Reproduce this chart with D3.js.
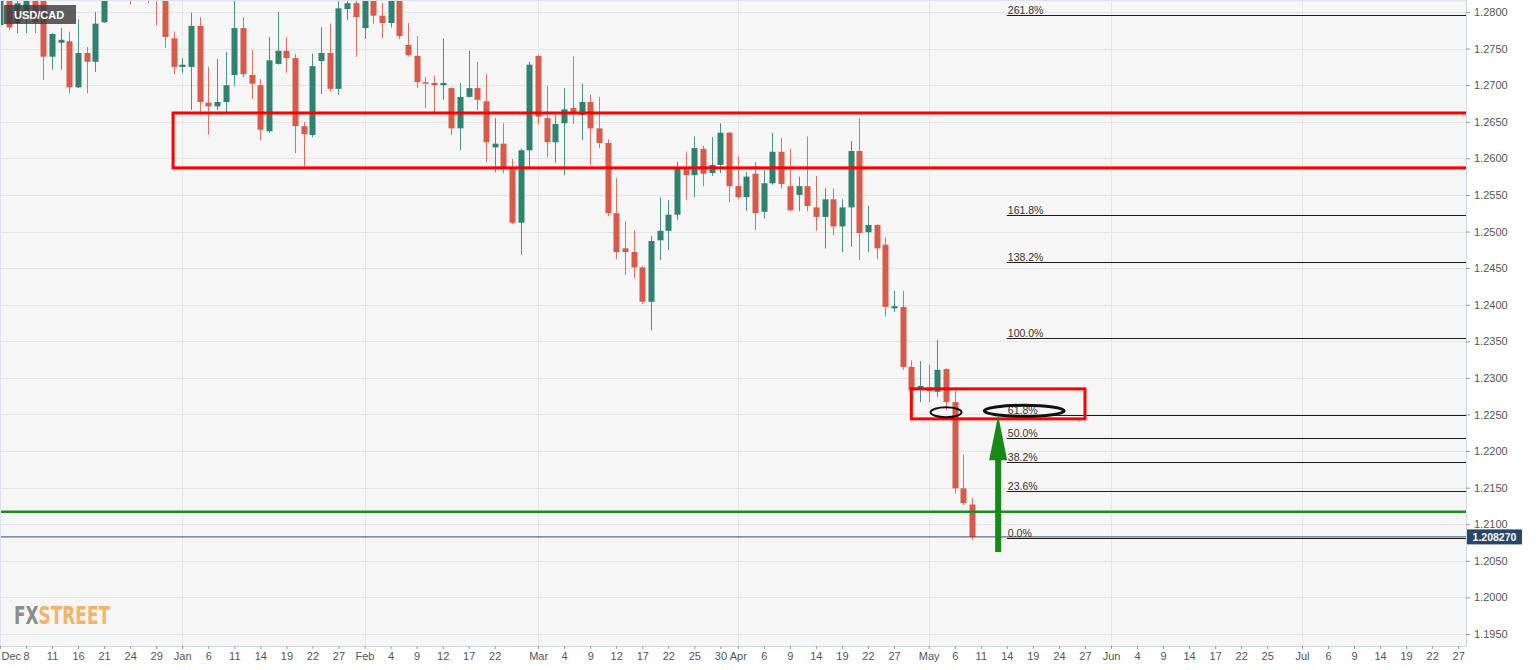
<!DOCTYPE html>
<html><head><meta charset="utf-8">
<script src="https://cdn.jsdelivr.net/npm/d3@7"></script>
<style>
body{margin:0;background:#fff;}
svg{display:block;font-family:"Liberation Sans",Arial,sans-serif;}
</style>
</head><body>
<svg id="chart" width="1536" height="670"></svg>
<script>
// ---- data ----
const symbol = "USD/CAD";
const firstDay = "2020-12-03";
const lastDay = "2021-07-27";
const opens = [1.2782,1.2821,1.2785,1.2796,1.2819,1.2819,1.2739,1.2758,1.2760,1.2697,1.2744,1.2732,1.2786,1.2844,1.2871,1.2857,1.2837,1.2844,1.2851,1.2823,1.2764,1.2725,1.2725,1.2781,1.2676,1.2671,1.2677,1.2714,1.2778,1.2714,1.2700,1.2637,1.2729,1.2747,1.2737,1.2644,1.2632,1.2733,1.2744,1.2695,1.2804,1.2812,1.2778,1.2821,1.2795,1.2785,1.2819,1.2755,1.2740,1.2704,1.2703,1.2700,1.2696,1.2641,1.2684,1.2696,1.2678,1.2615,1.2620,1.2588,1.2512,1.2611,1.2740,1.2655,1.2622,1.2648,1.2669,1.2659,1.2677,1.2641,1.2621,1.2525,1.2477,1.2472,1.2451,1.2404,1.2488,1.2501,1.2523,1.2588,1.2577,1.2613,1.2580,1.2591,1.2635,1.2562,1.2547,1.2579,1.2527,1.2566,1.2609,1.2562,1.2550,1.2562,1.2533,1.2520,1.2544,1.2507,1.2533,1.2610,1.2499,1.2509,1.2482,1.2395,1.2397,1.2315,1.2286,1.2287,1.2281,1.2312,1.2267,1.2149,1.2127];
const highs = [1.2827,1.2827,1.2821,1.2830,1.2825,1.2825,1.2771,1.2778,1.2773,1.2790,1.2752,1.2800,1.2844,1.2851,1.2885,1.2871,1.2864,1.2857,1.2857,1.2830,1.2773,1.2737,1.2799,1.2793,1.2725,1.2736,1.2745,1.2816,1.2793,1.2748,1.2708,1.2766,1.2800,1.2766,1.2743,1.2650,1.2743,1.2779,1.2784,1.2816,1.2823,1.2821,1.2827,1.2827,1.2812,1.2823,1.2823,1.2785,1.2767,1.2711,1.2713,1.2764,1.2697,1.2703,1.2747,1.2732,1.2715,1.2655,1.2648,1.2599,1.2613,1.2732,1.2741,1.2699,1.2659,1.2696,1.2739,1.2702,1.2687,1.2684,1.2626,1.2573,1.2514,1.2502,1.2453,1.2494,1.2547,1.2543,1.2595,1.2609,1.2630,1.2617,1.2629,1.2648,1.2636,1.2603,1.2581,1.2595,1.2584,1.2635,1.2628,1.2613,1.2575,1.2630,1.2576,1.2559,1.2559,1.2544,1.2624,1.2655,1.2535,1.2510,1.2492,1.2419,1.2419,1.2324,1.2323,1.2318,1.2352,1.2313,1.2287,1.2195,1.2136];
const lows = [1.2778,1.2775,1.2771,1.2771,1.2771,1.2707,1.2721,1.2721,1.2689,1.2696,1.2689,1.2718,1.2785,1.2823,1.2837,1.2810,1.2823,1.2812,1.2782,1.2751,1.2715,1.2717,1.2666,1.2659,1.2632,1.2666,1.2662,1.2699,1.2711,1.2681,1.2625,1.2635,1.2728,1.2717,1.2607,1.2589,1.2629,1.2688,1.2691,1.2687,1.2789,1.2739,1.2763,1.2784,1.2764,1.2779,1.2763,1.2739,1.2696,1.2669,1.2663,1.2680,1.2632,1.2611,1.2683,1.2666,1.2595,1.2581,1.2580,1.2510,1.2468,1.2588,1.2646,1.2602,1.2594,1.2577,1.2647,1.2625,1.2591,1.2614,1.2521,1.2462,1.2441,1.2436,1.2401,1.2365,1.2461,1.2475,1.2516,1.2543,1.2547,1.2562,1.2576,1.2580,1.2540,1.2544,1.2528,1.2502,1.2518,1.2564,1.2559,1.2527,1.2528,1.2528,1.2501,1.2477,1.2495,1.2472,1.2479,1.2461,1.2472,1.2462,1.2384,1.2390,1.2311,1.2281,1.2267,1.2267,1.2274,1.2256,1.2142,1.2126,1.2078];
const closes = [1.2823,1.2779,1.2812,1.2823,1.2786,1.2739,1.2770,1.2762,1.2697,1.2744,1.2732,1.2784,1.2837,1.2830,1.2851,1.2830,1.2851,1.2819,1.2823,1.2766,1.2725,1.2728,1.2781,1.2677,1.2671,1.2677,1.2700,1.2778,1.2715,1.2702,1.2639,1.2734,1.2747,1.2737,1.2644,1.2633,1.2726,1.2744,1.2695,1.2805,1.2812,1.2793,1.2821,1.2795,1.2785,1.2816,1.2767,1.2741,1.2704,1.2702,1.2700,1.2703,1.2641,1.2684,1.2696,1.2680,1.2622,1.2620,1.2588,1.2512,1.2611,1.2728,1.2657,1.2622,1.2647,1.2667,1.2663,1.2677,1.2641,1.2621,1.2525,1.2472,1.2472,1.2451,1.2404,1.2487,1.2501,1.2523,1.2587,1.2577,1.2614,1.2579,1.2591,1.2635,1.2562,1.2547,1.2575,1.2525,1.2566,1.2609,1.2565,1.2529,1.2562,1.2535,1.2520,1.2544,1.2507,1.2533,1.2610,1.2498,1.2509,1.2477,1.2397,1.2398,1.2315,1.2283,1.2289,1.2282,1.2311,1.2267,1.2149,1.2129,1.20827];
const lastPrice = 1.20827;
const tickDates = ["2020-12-03","2020-12-08","2020-12-11","2020-12-16","2020-12-21","2020-12-24","2020-12-29","2021-01-01","2021-01-06","2021-01-11","2021-01-14","2021-01-19","2021-01-22","2021-01-27","2021-02-01","2021-02-04","2021-02-09","2021-02-12","2021-02-17","2021-02-22","2021-03-01","2021-03-04","2021-03-09","2021-03-12","2021-03-17","2021-03-22","2021-03-25","2021-03-30","2021-04-01","2021-04-06","2021-04-09","2021-04-14","2021-04-19","2021-04-22","2021-04-27","2021-05-03","2021-05-06","2021-05-11","2021-05-14","2021-05-19","2021-05-24","2021-05-27","2021-06-01","2021-06-04","2021-06-09","2021-06-14","2021-06-17","2021-06-22","2021-06-25","2021-07-01","2021-07-06","2021-07-09","2021-07-14","2021-07-19","2021-07-22","2021-07-27"];
const tickLabels = ["Dec","8","11","16","21","24","29","Jan","6","11","14","19","22","27","Feb","4","9","12","17","22","Mar","4","9","12","17","22","25","30","Apr","6","9","14","19","22","27","May","6","11","14","19","24","27","Jun","4","9","14","17","22","25","Jul","6","9","14","19","22","27"];
const monthStarts = ["2021-01-01","2021-02-01","2021-03-01","2021-04-01","2021-05-03","2021-06-01","2021-07-01"];
const yTicks = [1.195,1.200,1.205,1.210,1.215,1.220,1.225,1.230,1.235,1.240,1.245,1.250,1.255,1.260,1.265,1.270,1.275,1.280];
const zoneTop = ["2020-12-31", 1.2662, 1.2587];        // start, upper, lower
const zoneFib = ["2021-04-29", "2021-05-27", 1.2285, 1.2244];
const supportLevel = 1.2117;
const fibStart = "2021-05-14";
const fibLow = 1.2081, fibHigh = 1.2354;
const fibRatios = [0, 0.236, 0.382, 0.5, 0.618, 1, 1.382, 1.618, 2.618];
const fibLabels = ["0.0%","23.6%","38.2%","50.0%","61.8%","100.0%","138.2%","161.8%","261.8%"];
const ellipses = [["2021-05-05", 1.2253, 15.5, 5], ["2021-05-18", 1.2255, 40, 5.5]];
const arrowDate = "2021-05-13", arrowFrom = 1.2062, arrowTo = 1.2249;
const logoParts = [["FX", "#8c8c8c"], ["STREET", "#f2b468"]];

// ---- layout ----
const W = 1536, H = 670, plotR = 1466, plotB = 646;
const svg = d3.select("#chart");

const days = [];
for (let d = new Date(firstDay + "T00:00:00Z"); d <= new Date(lastDay + "T00:00:00Z"); d.setUTCDate(d.getUTCDate() + 1)) {
  const w = d.getUTCDay();
  if (w !== 0 && w !== 6) days.push(d.toISOString().slice(0, 10));
}
const x = d3.scalePoint().domain(days).range([-0.04, 1458.2]);
const y = d3.scaleLinear().domain([1.195, 1.28]).range([634, 12]);

const candles = opens.map((o, i) => ({date: days[i], o, h: highs[i], l: lows[i], c: closes[i]}));

svg.append("rect").attr("width", W).attr("height", H).attr("fill", "#ffffff");
svg.append("rect").attr("x", 0).attr("y", 0).attr("width", plotR).attr("height", plotB).attr("fill", "#f6f6f6");

svg.append("defs").append("clipPath").attr("id", "clip")
  .append("rect").attr("x", 0).attr("y", 0).attr("width", plotR).attr("height", plotB);

const plot = svg.append("g").attr("clip-path", "url(#clip)");

// grid
plot.selectAll(".hg").data(yTicks).join("line")
  .attr("x1", 0).attr("x2", plotR).attr("y1", d => Math.round(y(d)) + 0.5).attr("y2", d => Math.round(y(d)) + 0.5)
  .attr("stroke", "#e6e6e6").attr("stroke-width", 1);
plot.selectAll(".vg").data(monthStarts).join("line")
  .attr("y1", 0).attr("y2", plotB).attr("x1", d => Math.round(x(d)) + 0.5).attr("x2", d => Math.round(x(d)) + 0.5)
  .attr("stroke", "#e6e6e6").attr("stroke-width", 1);

// candles
const up = "#2e8270", dn = "#d85a4b";
const cg = plot.append("g");
cg.selectAll("line").data(candles).join("line")
  .attr("x1", d => Math.round(x(d.date)) + 0.5).attr("x2", d => Math.round(x(d.date)) + 0.5)
  .attr("y1", d => y(d.h)).attr("y2", d => y(d.l))
  .attr("stroke", d => d.c >= d.o ? up : dn).attr("stroke-width", 1).attr("opacity", 0.85);
cg.selectAll("rect").data(candles).join("rect")
  .attr("x", d => Math.round(x(d.date)) - 2.5).attr("width", 6)
  .attr("y", d => y(Math.max(d.o, d.c)))
  .attr("height", d => Math.max(1.5, Math.abs(y(d.o) - y(d.c))))
  .attr("fill", d => d.c >= d.o ? up : dn);

// supply zone rectangle
plot.append("rect")
  .attr("x", x(zoneTop[0]) - 0.5).attr("y", y(zoneTop[1]))
  .attr("width", plotR + 10 - x(zoneTop[0])).attr("height", y(zoneTop[2]) - y(zoneTop[1]))
  .attr("fill", "none").attr("stroke", "#ff0000").attr("stroke-width", 3);

// last price line
plot.append("line").attr("x1", 0).attr("x2", plotR)
  .attr("y1", y(lastPrice)).attr("y2", y(lastPrice))
  .attr("stroke", "#3c4b5e").attr("stroke-width", 1);

// support line
plot.append("line").attr("x1", 0).attr("x2", plotR)
  .attr("y1", y(supportLevel)).attr("y2", y(supportLevel))
  .attr("stroke", "#1f8a1f").attr("stroke-width", 2.5);

// fibonacci
const fibG = plot.append("g");
const fibData = fibRatios.map((r, i) => ({p: fibLow + r * (fibHigh - fibLow), label: fibLabels[i]}));
fibG.selectAll("line").data(fibData).join("line")
  .attr("x1", x(fibStart)).attr("x2", plotR)
  .attr("y1", d => Math.round(y(d.p)) + 0.5).attr("y2", d => Math.round(y(d.p)) + 0.5)
  .attr("stroke", "#1a1a1a").attr("stroke-width", 1);
fibG.selectAll("text").data(fibData).join("text")
  .attr("x", x(fibStart) + 1).attr("y", d => Math.round(y(d.p)) - 1.5)
  .attr("font-size", 10.5).attr("fill", "#333").text(d => d.label);

// fib zone rectangle
plot.append("rect")
  .attr("x", x(zoneFib[0])).attr("y", y(zoneFib[2]))
  .attr("width", x(zoneFib[1]) - x(zoneFib[0])).attr("height", y(zoneFib[3]) - y(zoneFib[2]))
  .attr("fill", "none").attr("stroke", "#ff0000").attr("stroke-width", 3);

// ellipses
plot.selectAll(".el").data(ellipses).join("ellipse")
  .attr("cx", d => x(d[0])).attr("cy", d => y(d[1])).attr("rx", d => d[2]).attr("ry", d => d[3])
  .attr("fill", "none").attr("stroke", "#111").attr("stroke-width", (d, i) => i ? 3 : 2);

// arrow
const ax = x(arrowDate), ay0 = y(arrowFrom), ay1 = y(arrowTo);
plot.append("rect").attr("x", ax - 3).attr("y", ay1 + 40).attr("width", 6).attr("height", ay0 - ay1 - 40).attr("fill", "#168a16");
plot.append("path").attr("d", `M${ax},${ay1} L${ax - 9},${ay1 + 45} L${ax + 9},${ay1 + 45} Z`).attr("fill", "#168a16");

// borders
svg.append("line").attr("x1", plotR + 0.5).attr("x2", plotR + 0.5).attr("y1", 0).attr("y2", plotB).attr("stroke", "#cfd6e4");
svg.append("line").attr("x1", 0).attr("x2", plotR).attr("y1", plotB + 0.5).attr("y2", plotB + 0.5).attr("stroke", "#cfd6e4");
svg.append("line").attr("x1", 0).attr("x2", plotR).attr("y1", 0.5).attr("y2", 0.5).attr("stroke", "#dde2ec");
svg.append("line").attr("x1", 0.5).attr("x2", 0.5).attr("y1", 0).attr("y2", plotB).attr("stroke", "#dde2ec");

// right axis
const yAxis = d3.axisRight(y).tickValues(yTicks).tickFormat(d3.format(".4f")).tickSize(4).tickPadding(4);
const ya = svg.append("g").attr("transform", `translate(${plotR},0)`).call(yAxis);
ya.select(".domain").remove();
ya.selectAll("line").attr("stroke", "#999");
ya.selectAll("text").attr("font-size", 11).attr("fill", "#555").attr("font-family", "Liberation Sans, Arial, sans-serif");

// bottom axis
const xAxis = d3.axisBottom(x).tickValues(tickDates).tickFormat((d, i) => tickLabels[i]).tickSize(3).tickPadding(3);
const xa = svg.append("g").attr("transform", `translate(0,${plotB})`).call(xAxis);
xa.select(".domain").remove();
xa.selectAll("line").attr("stroke", "#999");
xa.selectAll("text").attr("font-size", 11).attr("fill", "#555").attr("font-family", "Liberation Sans, Arial, sans-serif");
// first label is kept inside the picture
xa.selectAll(".tick").filter((d, i) => i === 0).select("text").attr("text-anchor", "start").attr("x", 1 - x(tickDates[0]));

// last price label
const ly = y(lastPrice);
svg.append("rect").attr("x", plotR + 1).attr("y", ly - 7.5).attr("width", 55).attr("height", 15).attr("fill", "#27466b");
svg.append("text").attr("x", plotR + 28.5).attr("y", ly + 4).attr("text-anchor", "middle")
  .attr("font-size", 10.5).attr("font-weight", "bold").attr("fill", "#fff").text(d3.format(".6f")(lastPrice));

// symbol label
svg.append("rect").attr("x", 4).attr("y", 5).attr("width", 72).attr("height", 19).attr("fill", "rgba(60,60,60,0.82)");
svg.append("text").attr("x", 14).attr("y", 19).attr("font-size", 11).attr("font-weight", "bold").attr("fill", "#fff").text(symbol);

// logo (one text, two coloured parts)
const logo = svg.append("text").attr("x", 14).attr("y", 624).attr("font-size", 25).attr("font-weight", "bold")
  .attr("font-family", "'Liberation Sans Narrow','DejaVu Sans Condensed',sans-serif")
  .attr("textLength", 96).attr("lengthAdjust", "spacingAndGlyphs");
logo.selectAll("tspan").data(logoParts).join("tspan").attr("fill", d => d[1]).text(d => d[0]);
</script>
</body></html>
